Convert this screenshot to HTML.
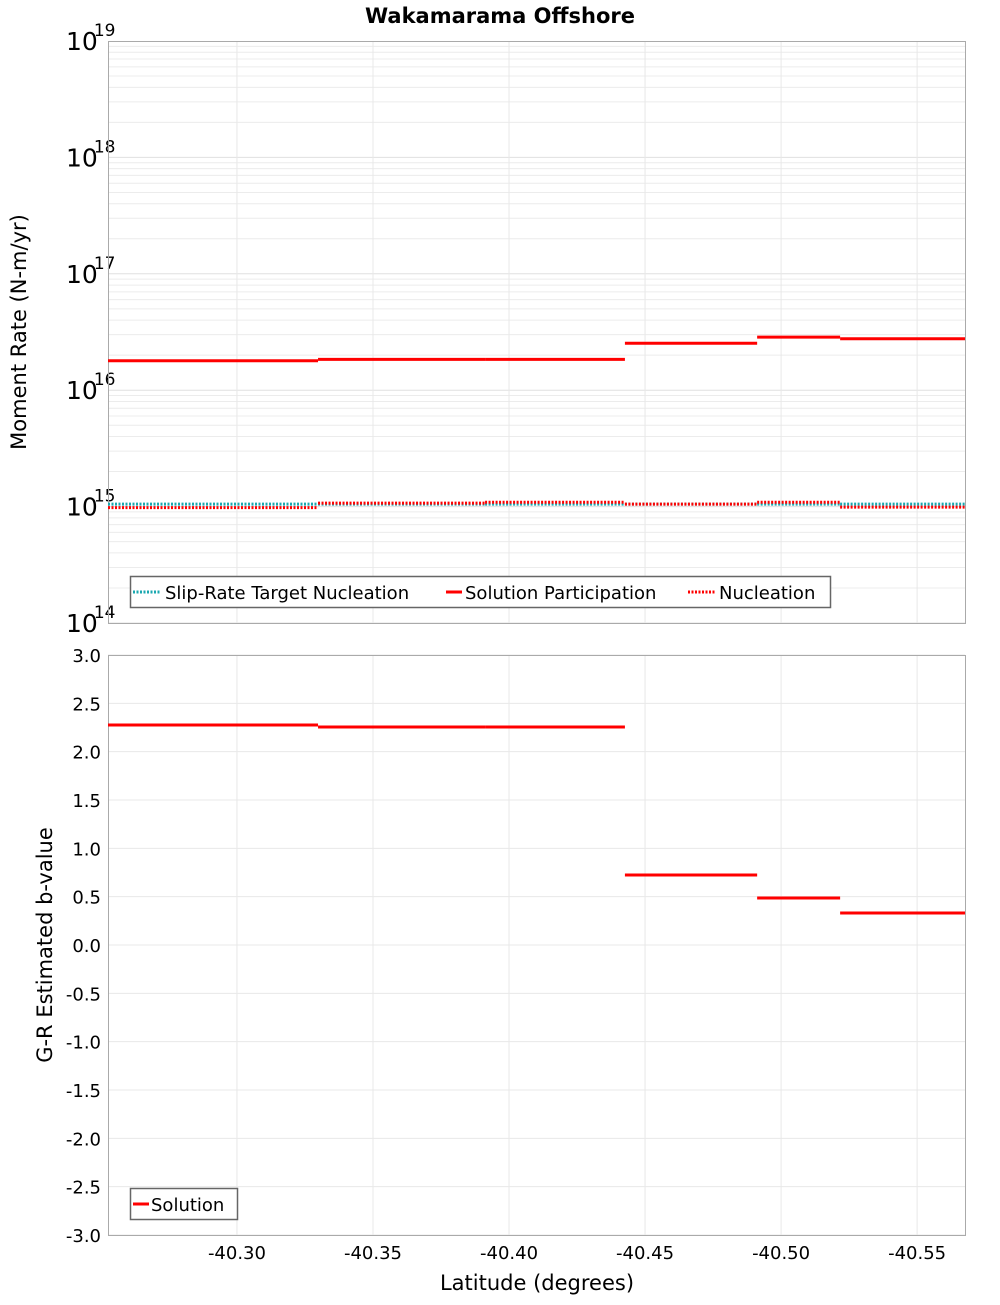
<!DOCTYPE html>
<html><head><meta charset="utf-8"><style>
body{margin:0;background:#fff;}
svg text{font-family:"DejaVu Sans","Liberation Sans",sans-serif;}
</style></head><body>
<svg id="chart" width="1000" height="1300" xmlns="http://www.w3.org/2000/svg">
<text x="500" y="23" text-anchor="middle" font-size="21" font-weight="bold">Wakamarama Offshore</text>
<g id="topPanel"></g><g id="botPanel"></g>
<text transform="translate(26,332) rotate(-90)" text-anchor="middle" font-size="21">Moment Rate (N-m/yr)</text>
<text transform="translate(52,945) rotate(-90)" text-anchor="middle" font-size="21">G-R Estimated b-value</text>
<text x="537" y="1290" text-anchor="middle" font-size="21">Latitude (degrees)</text>
</svg>
<script>
const binEdges=[-40.2526,-40.3298,-40.3912,-40.4426,-40.4912,-40.5217,-40.5676];
const targetNucleation=[1.05e15,1.05e15,1.05e15,1.05e15,1.05e15,1.05e15];
const solutionParticipation=[1.79e16,1.84e16,1.84e16,2.53e16,2.86e16,2.77e16];
const nucleation=[0.98e15,1.07e15,1.09e15,1.05e15,1.09e15,0.99e15];
const bValues=[2.276,2.255,2.255,0.724,0.486,0.331];
const xTicks=[-40.30,-40.35,-40.40,-40.45,-40.50,-40.55];
const yTicksB=[3,2.5,2,1.5,1,0.5,0,-0.5,-1,-1.5,-2,-2.5,-3];
const decades=[14,15,16,17,18,19];

const NS='http://www.w3.org/2000/svg';
const L=108,R=965,T1=41,B1=623,T2=655,B2=1235;
const xs=v=>L+(v-binEdges[0])/(binEdges[binEdges.length-1]-binEdges[0])*(R-L);
const y1=v=>T1+(19-Math.log10(v))/5*(B1-T1);
const y2=v=>T2+(3-v)/6*(B2-T2);
function el(p,tag,a,txt){const e=document.createElementNS(NS,tag);for(const k in a)e.setAttribute(k,a[k]);if(txt!==undefined)e.textContent=txt;p.appendChild(e);return e;}
const topG=document.getElementById('topPanel'),botG=document.getElementById('botPanel');
for(let d=14;d<19;d++)for(let m=1;m<10;m++){const y=y1(m*Math.pow(10,d));const g=el(topG,'line',{x1:L,x2:R,y1:y,y2:y,stroke:m==1?'#e0e0e0':'#ececec','stroke-width':1});

}
xTicks.forEach(t=>{const g=el(topG,'line',{x1:xs(t),x2:xs(t),y1:T1,y2:B1,stroke:'#e8e8e8'});


const g2=el(botG,'line',{x1:xs(t),x2:xs(t),y1:T2,y2:B2,stroke:'#e8e8e8'});


const tx=el(botG,'text',{x:xs(t),y:B2+24,'text-anchor':'middle','font-size':18},t.toFixed(2));

});
yTicksB.forEach(t=>{const g=el(botG,'line',{x1:L,x2:R,y1:y2(t),y2:y2(t),stroke:'#e8e8e8'});


const tx=el(botG,'text',{x:101,y:y2(t)+7,'text-anchor':'end','font-size':18},t.toFixed(1));

});
decades.forEach(d=>{const y=y1(Math.pow(10,d));const tx=el(topG,'text',{x:66,y:y+9,'font-size':25},'10');


el(tx,'tspan',{dx:-4,dy:-14,'font-size':17},String(d));});
const f1=el(topG,'rect',{x:L+0.5,y:T1+0.5,width:R-L,height:B1-T1,fill:'none',stroke:'#aaa'});


const f2=el(botG,'rect',{x:L+0.5,y:T2+0.5,width:R-L,height:B2-T2,fill:'none',stroke:'#aaa'});


function steps(p,arr,yf,st,dash,name){arr.forEach((v,i)=>{const a={x1:xs(binEdges[i]),x2:xs(binEdges[i+1]),y1:yf(v),y2:yf(v),stroke:st,'stroke-width':3};if(dash)a['stroke-dasharray']=dash;const e=el(p,'line',a);

});}
steps(topG,targetNucleation,y1,'#1aa8b0','2,1.5','target-nucleation-segment');
steps(topG,solutionParticipation,y1,'#ff0000',null,'solution-participation-segment');
steps(topG,nucleation,y1,'#ff0000','2,1.5','nucleation-segment');
steps(botG,bValues,y2,'#ff0000',null,'b-value-segment');
const lg=el(topG,'g',{});


el(lg,'rect',{x:130.5,y:576.5,width:700,height:31,fill:'#fff',stroke:'#666','stroke-width':1.5});
el(lg,'line',{x1:133,x2:161,y1:592,y2:592,stroke:'#1aa8b0','stroke-width':3,'stroke-dasharray':'2,1.5'});
el(lg,'text',{x:165,y:599,'font-size':18},'Slip-Rate Target Nucleation');
el(lg,'line',{x1:446,x2:462,y1:592,y2:592,stroke:'#f00','stroke-width':3});
el(lg,'text',{x:465,y:599,'font-size':18},'Solution Participation');
el(lg,'line',{x1:688,x2:716,y1:592,y2:592,stroke:'#f00','stroke-width':3,'stroke-dasharray':'2,1.5'});
el(lg,'text',{x:719,y:599,'font-size':18},'Nucleation');
const lb=el(botG,'g',{});


el(lb,'rect',{x:130.5,y:1188.5,width:107,height:31,fill:'#fff',stroke:'#666','stroke-width':1.5});
el(lb,'line',{x1:133,x2:149,y1:1204,y2:1204,stroke:'#f00','stroke-width':3});
el(lb,'text',{x:151,y:1211,'font-size':18},'Solution');
</script>
</body></html>
